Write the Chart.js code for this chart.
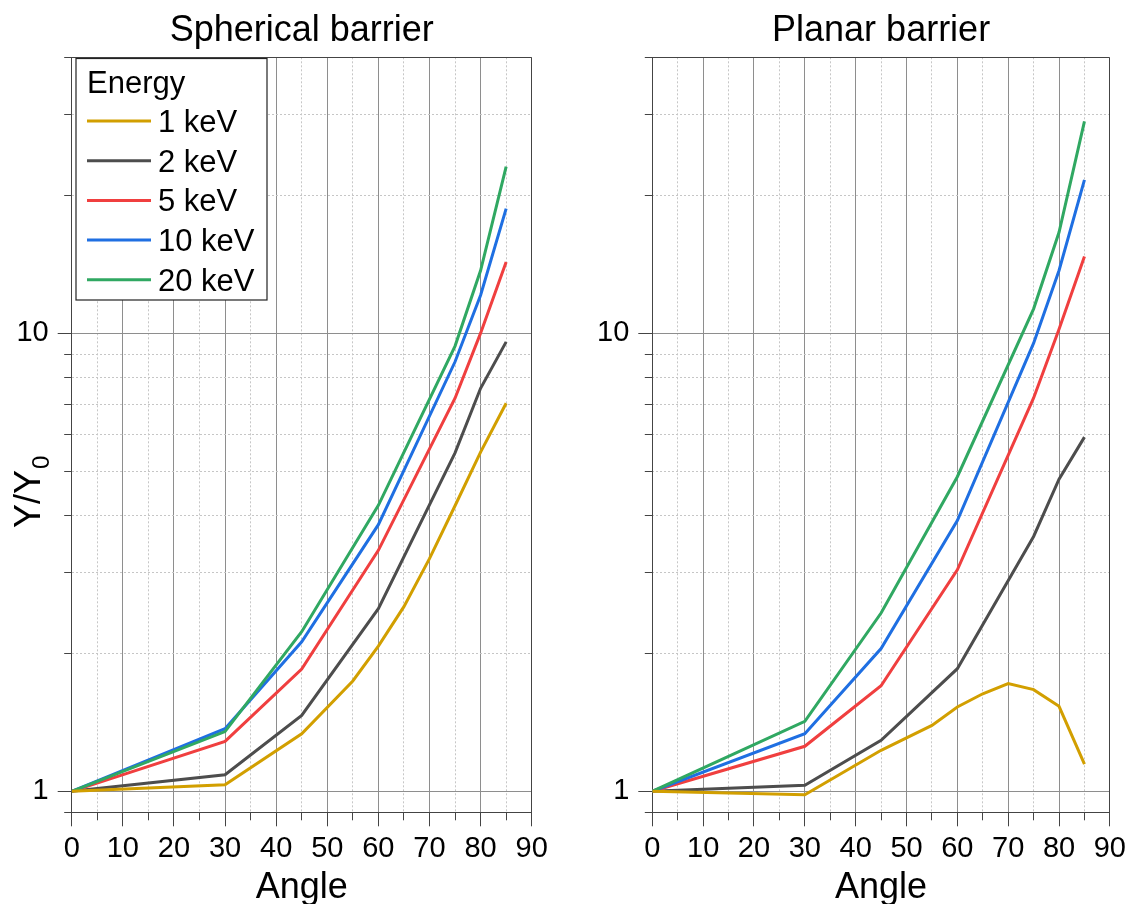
<!DOCTYPE html>
<html>
<head>
<meta charset="utf-8">
<title>Y/Y0 versus angle</title>
<script src="https://cdn.jsdelivr.net/npm/chart.js@4.4.1/dist/chart.umd.min.js"></script>
<style>
  html, body { margin: 0; padding: 0; background: #fff; width: 1131px; height: 904px; overflow: hidden; }
  .panel { position: absolute; top: 0; height: 904px; }
  #panelSph { left: 0; width: 565px; }
  #panelPla { left: 565px; width: 566px; }
</style>
</head>
<body>
<div class="panel" id="panelSph"><canvas id="chartSph"></canvas></div>
<div class="panel" id="panelPla"><canvas id="chartPla"></canvas></div>
<script>
// Incidence angles (degrees) at which the yields were evaluated
const anglesFine = [0, 30, 45, 55, 60, 65, 70, 75, 80, 85];
const anglesMain = [0, 30, 45, 60, 75, 80, 85];

// Series labels and colours
const energyLabels = ['1 keV', '2 keV', '5 keV', '10 keV', '20 keV'];
const energyColors = ['#d29f00', '#4d4d4d', '#f03f3f', '#1f6fe2', '#30a862'];

// Spherical barrier: relative yield Y/Y0
const sph1keV  = [1, 1.034, 1.335, 1.741, 2.075, 2.53, 3.22, 4.2, 5.5, 7.03];
const sph2keV  = [1, 1.087, 1.464, 2.505, 5.48, 7.58, 9.57];
const sph5keV  = [1, 1.285, 1.849, 3.357, 7.21, 10.0, 14.3];
const sph10keV = [1, 1.37, 2.12, 3.82, 8.66, 12.1, 18.7];
const sph20keV = [1, 1.35, 2.23, 4.21, 9.37, 13.7, 23.1];

// Planar barrier: relative yield Y/Y0
const pla1keV  = [1, 0.983, 1.229, 1.393, 1.528, 1.633, 1.718, 1.667, 1.533, 1.147];
const pla2keV  = [1, 1.031, 1.292, 1.852, 3.6, 4.8, 5.93];
const pla5keV  = [1, 1.254, 1.70, 3.045, 7.22, 10.2, 14.7];
const pla10keV = [1, 1.336, 2.05, 3.90, 9.51, 13.7, 21.6];
const pla20keV = [1, 1.421, 2.45, 4.86, 11.3, 16.6, 29.0];

// Tick values
const xMajorTicks = [0, 10, 20, 30, 40, 50, 60, 70, 80, 90];
const xMinorTicks = [5, 15, 25, 35, 45, 55, 65, 75, 85];
const yMajorTicks = [1, 10];
const yMinorTicks = [0.9, 2, 3, 4, 5, 6, 7, 8, 9, 20, 30, 40];

const FONT = "'Liberation Sans', Arial, Helvetica, sans-serif";
const drawOrder = [0, 4, 3, 2, 1]; // 1 keV on top, then 20, 10, 5, 2 keV

function toPoints(xs, ys) {
  return xs.map((x, i) => ({ x: x, y: ys[i] }));
}

// Titles, frame, y-axis title and legend box
const panelDecor = {
  id: 'panelDecor',
  afterDraw(chart, args, o) {
    const ctx = chart.ctx;
    const a = chart.chartArea;
    ctx.save();

    // top and right sides of the plot frame
    ctx.strokeStyle = '#444';
    ctx.lineWidth = 1;
    const t = Math.round(a.top) + 0.5;
    const r = Math.round(a.right) - 0.5;
    const b = Math.round(a.bottom) + 0.5;
    ctx.beginPath();
    ctx.moveTo(Math.round(a.left), t);
    ctx.lineTo(r, t);
    ctx.lineTo(r, b);
    ctx.stroke();

    // panel title
    ctx.fillStyle = '#000';
    ctx.font = '36px ' + FONT;
    ctx.textAlign = 'center';
    ctx.textBaseline = 'alphabetic';
    ctx.fillText(o.title, (a.left + a.right) / 2, 41);

    // y-axis title with subscript
    if (o.yTitle) {
      ctx.save();
      ctx.translate(40, 528);
      ctx.rotate(-Math.PI / 2);
      ctx.textAlign = 'left';
      ctx.font = '36px ' + FONT;
      ctx.fillText('Y/Y', 0, 0);
      const w = ctx.measureText('Y/Y').width;
      ctx.font = '24px ' + FONT;
      ctx.fillText('0', w + 1, 9);
      ctx.restore();
    }

    // legend
    if (o.legend) {
      const L = o.legend;
      ctx.fillStyle = '#fff';
      ctx.fillRect(L.x, L.y, L.w, L.h);
      ctx.strokeStyle = '#222';
      ctx.lineWidth = 1.2;
      ctx.strokeRect(L.x, L.y, L.w, L.h);
      ctx.fillStyle = '#000';
      ctx.font = '31px ' + FONT;
      ctx.textAlign = 'left';
      ctx.textBaseline = 'alphabetic';
      ctx.fillText('Energy', L.x + 11, L.y + 34);
      chart.data.datasets
        .slice()
        .sort((p, q) => energyLabels.indexOf(p.label) - energyLabels.indexOf(q.label))
        .forEach((ds, i) => {
          const yRow = L.y + 62.5 + i * 39.7;
          ctx.strokeStyle = ds.borderColor;
          ctx.lineWidth = 3;
          ctx.beginPath();
          ctx.moveTo(L.x + 11, yRow);
          ctx.lineTo(L.x + 75, yRow);
          ctx.stroke();
          ctx.fillStyle = '#000';
          ctx.fillText(ds.label, L.x + 82, yRow + 11);
        });
    }
    ctx.restore();
  }
};

function makePanel(canvasId, title, series, geom) {
  const datasets = series.map((s, i) => ({
    label: energyLabels[i],
    data: toPoints(s.x, s.y),
    borderColor: energyColors[i],
    backgroundColor: energyColors[i],
    borderWidth: 3,
    pointRadius: 0,
    pointHoverRadius: 0,
    tension: 0,
    fill: false,
    order: drawOrder[i],
    xAxisID: 'x',
    yAxisID: 'y'
  }));

  return new Chart(document.getElementById(canvasId), {
    type: 'line',
    data: { datasets: datasets },
    plugins: [panelDecor],
    options: {
      responsive: true,
      maintainAspectRatio: false,
      animation: false,
      devicePixelRatio: 1,
      layout: { padding: { left: 0, right: geom.padRight, top: 57.3, bottom: 0 } },
      plugins: {
        legend: { display: false },
        tooltip: { enabled: false },
        title: { display: false },
        panelDecor: { title: title, yTitle: geom.yTitle, legend: geom.legend }
      },
      scales: {
        x: {
          type: 'linear', axis: 'x', position: 'bottom', min: 0, max: 90, weight: 1,
          afterBuildTicks: s => { s.ticks = xMajorTicks.map(v => ({ value: v })); },
          afterFit: s => { s.height = 904 - 812.3; },
          ticks: {
            font: { family: FONT, size: 29 }, color: '#000', padding: 5,
            maxRotation: 0, autoSkip: false, callback: v => String(v)
          },
          grid: { color: '#8e8e8e', lineWidth: 1, tickLength: 14, tickColor: '#444', tickWidth: 1 },
          border: { display: true, color: '#444', width: 1 },
          title: {
            display: true, text: 'Angle', color: '#000',
            font: { family: FONT, size: 36, lineHeight: 1 },
            padding: { top: 0, bottom: -2.5 }
          }
        },
        xMinor: {
          type: 'linear', axis: 'x', position: 'bottom', min: 0, max: 90, weight: 0,
          afterBuildTicks: s => { s.ticks = xMinorTicks.map(v => ({ value: v })); },
          afterFit: s => { s.height = 0; },
          ticks: { display: false },
          grid: { color: '#c6c6c6', lineWidth: 1, tickLength: 8, tickColor: '#444', tickWidth: 1, tickBorderDash: [20, 0] },
          border: { display: false, dash: [2, 2] }
        },
        y: {
          type: 'logarithmic', axis: 'y', position: 'left', min: 0.9, max: 40, weight: 1,
          afterBuildTicks: s => { s.ticks = yMajorTicks.map(v => ({ value: v })); },
          afterFit: s => { s.width = geom.yAxisWidth; },
          ticks: {
            font: { family: FONT, size: 29 }, color: '#000', padding: 9,
            autoSkip: false, callback: v => String(v)
          },
          grid: { color: '#8e8e8e', lineWidth: 1, tickLength: 14, tickColor: '#444', tickWidth: 1 },
          border: { display: true, color: '#444', width: 1 }
        },
        yMinor: {
          type: 'logarithmic', axis: 'y', position: 'left', min: 0.9, max: 40, weight: 0,
          afterBuildTicks: s => { s.ticks = yMinorTicks.map(v => ({ value: v })); },
          afterFit: s => { s.width = 0; },
          ticks: { display: false },
          grid: { color: '#c6c6c6', lineWidth: 1, tickLength: 7.5, tickColor: '#444', tickWidth: 1, tickBorderDash: [20, 0] },
          border: { display: false, dash: [2, 2] }
        }
      }
    }
  });
}

makePanel('chartSph', 'Spherical barrier', [
  { x: anglesFine, y: sph1keV },
  { x: anglesMain, y: sph2keV },
  { x: anglesMain, y: sph5keV },
  { x: anglesMain, y: sph10keV },
  { x: anglesMain, y: sph20keV }
], {
  yAxisWidth: 71.7, padRight: 33.3, yTitle: true,
  legend: { x: 76, y: 58.5, w: 191, h: 241.5 }
});

makePanel('chartPla', 'Planar barrier', [
  { x: anglesFine, y: pla1keV },
  { x: anglesMain, y: pla2keV },
  { x: anglesMain, y: pla5keV },
  { x: anglesMain, y: pla10keV },
  { x: anglesMain, y: pla20keV }
], {
  yAxisWidth: 87.3, padRight: 18.7, yTitle: false, legend: null
});
</script>
</body>
</html>
